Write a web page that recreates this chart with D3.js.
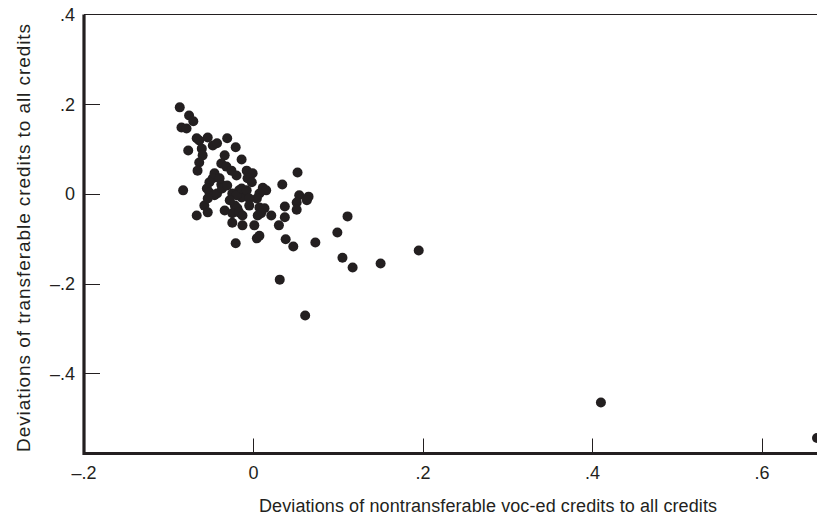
<!DOCTYPE html>
<html>
<head>
<meta charset="utf-8">
<script src="https://cdn.jsdelivr.net/npm/d3@7"></script>
<style>
  body { margin: 0; background: #fff; }
  text { font-family: "Liberation Sans", Arial, sans-serif; fill: #231f20; }
</style>
</head>
<body>
<svg id="chart"></svg>
<script>
// Deviations of nontransferable voc-ed credits (x) and transferable credits (y)
const xDev = [
  -0.087, -0.076, -0.071, -0.085, -0.079, -0.067, -0.064, -0.054, -0.031, -0.077,
  -0.048, -0.043, -0.061, -0.060, -0.034, -0.021, -0.014, -0.064, -0.066, -0.038,
  -0.032, -0.026, -0.020, -0.046, -0.048, -0.008, -0.001, -0.007, -0.002, 0.052,
  -0.083, -0.052, -0.055, -0.052, -0.046, -0.043, -0.038, -0.037, -0.025, -0.017,
  -0.014, -0.020, -0.014, -0.008, 0.011, 0.015, 0.007, 0.004, -0.005, -0.005,
  0.034, -0.058, -0.054, -0.067, -0.054, -0.022, -0.019, -0.025, -0.025, -0.013,
  0.001, 0.007, 0.013, 0.009, 0.005, -0.017, -0.013, 0.021, 0.037, 0.037,
  0.030, 0.054, 0.065, 0.063, 0.051, 0.051, -0.021, 0.004, 0.007, 0.038,
  0.047, 0.073, 0.099, 0.111, 0.105, 0.117, 0.150, 0.195, 0.031, 0.061,
  0.410, 0.665, -0.040, -0.031, -0.028, -0.034
];
const yDev = [
  0.193, 0.175, 0.162, 0.148, 0.146, 0.124, 0.119, 0.126, 0.124, 0.097,
  0.108, 0.113, 0.101, 0.086, 0.086, 0.104, 0.077, 0.070, 0.052, 0.068,
  0.061, 0.052, 0.041, 0.046, 0.035, 0.052, 0.046, 0.035, 0.026, 0.048,
  0.008, 0.026, 0.012, 0.003, -0.003, 0.001, 0.021, 0.012, 0.001, 0.008,
  -0.008, -0.003, 0.012, 0.008, 0.014, 0.008, 0.001, -0.010, -0.010, -0.026,
  0.021, -0.026, -0.010, -0.048, -0.041, -0.026, -0.032, -0.043, -0.064, -0.070,
  -0.070, -0.030, -0.032, -0.043, -0.048, -0.041, -0.048, -0.048, -0.028, -0.052,
  -0.070, -0.003, -0.006, -0.014, -0.019, -0.035, -0.110, -0.099, -0.093, -0.101,
  -0.117, -0.108, -0.086, -0.050, -0.142, -0.164, -0.155, -0.126, -0.191, -0.271,
  -0.465, -0.544, 0.035, 0.019, -0.014, -0.037
];

const xTicks = [0, 0.2, 0.4, 0.6];
const xTickLabels = ["\u2013.2", "0", ".2", ".4", ".6"];
const xLabelValues = [-0.2, 0, 0.2, 0.4, 0.6];
const yTicks = [0.2, 0, -0.2, -0.4];
const yTickLabels = [".4", ".2", "0", "\u2013.2", "\u2013.4"];
const yLabelValues = [0.4, 0.2, 0, -0.2, -0.4];

const width = 817;
const height = 518;
const plot = { left: 84, right: 817, top: 14.5, bottom: 453.5 };

const points = xDev.map((x, i) => ({ x, y: yDev[i] }));

const xScale = d3.scaleLinear()
  .domain([-0.2, 0.665])
  .range([plot.left, plot.right]);

const yScale = d3.scaleLinear()
  .domain([-0.5785, 0.4])
  .range([plot.bottom, plot.top]);

const svg = d3.select("#chart")
  .attr("width", width)
  .attr("height", height);

// Dots
svg.append("g")
  .selectAll("circle")
  .data(points)
  .enter()
  .append("circle")
  .attr("cx", d => xScale(d.x))
  .attr("cy", d => yScale(d.y))
  .attr("r", 5)
  .attr("fill", "#231f20");

// Inward tick marks
svg.append("g")
  .selectAll("line")
  .data(xTicks)
  .enter()
  .append("line")
  .attr("x1", d => Math.round(xScale(d)) + 0.5)
  .attr("x2", d => Math.round(xScale(d)) + 0.5)
  .attr("y1", plot.bottom)
  .attr("y2", plot.bottom - 15)
  .attr("stroke", "#231f20")
  .attr("stroke-width", 1);

svg.append("g")
  .selectAll("line")
  .data(yTicks)
  .enter()
  .append("line")
  .attr("x1", plot.left)
  .attr("x2", plot.left + 16)
  .attr("y1", d => Math.round(yScale(d)) + 0.5)
  .attr("y2", d => Math.round(yScale(d)) + 0.5)
  .attr("stroke", "#231f20")
  .attr("stroke-width", 1);

// Frame: thin top line, thick left and bottom axes
svg.append("line")
  .attr("x1", plot.left).attr("x2", plot.right)
  .attr("y1", plot.top).attr("y2", plot.top)
  .attr("stroke", "#231f20").attr("stroke-width", 1);

svg.append("path")
  .attr("d", `M${plot.left},${plot.top} L${plot.left},${plot.bottom} L${plot.right},${plot.bottom}`)
  .attr("fill", "none")
  .attr("stroke", "#231f20")
  .attr("stroke-width", 3.2);

// Tick labels
svg.append("g")
  .selectAll("text")
  .data(xLabelValues)
  .enter()
  .append("text")
  .attr("x", d => xScale(d))
  .attr("y", 479)
  .attr("text-anchor", "middle")
  .style("font-size", "18px")
  .text((d, i) => xTickLabels[i]);

svg.append("g")
  .selectAll("text")
  .data(yLabelValues)
  .enter()
  .append("text")
  .attr("x", 75)
  .attr("y", d => yScale(d) + 6.5)
  .attr("text-anchor", "end")
  .style("font-size", "18px")
  .text((d, i) => yTickLabels[i]);

// Axis titles
svg.append("text")
  .attr("x", 488)
  .attr("y", 512)
  .attr("text-anchor", "middle")
  .attr("textLength", 458)
  .style("font-size", "18px")
  .text("Deviations of nontransferable voc-ed credits to all credits");

svg.append("text")
  .attr("transform", "rotate(-90)")
  .attr("x", -238)
  .attr("y", 30)
  .attr("text-anchor", "middle")
  .attr("textLength", 428)
  .style("font-size", "19px")
  .text("Deviations of transferable credits to all credits");
</script>
</body>
</html>
